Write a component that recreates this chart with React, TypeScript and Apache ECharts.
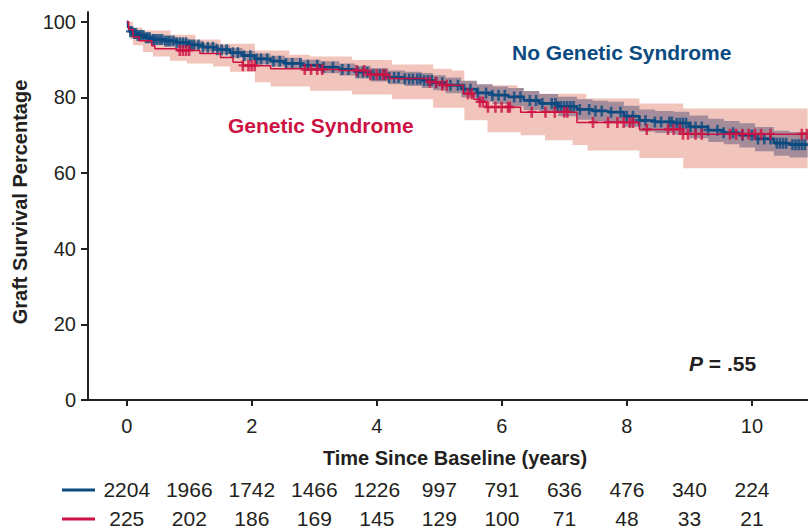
import React, { useEffect, useRef } from "react";
import * as echarts from "echarts";

// ---- axes / ticks ----
const xTicks = [0, 2, 4, 6, 8, 10];
const yTicks = [0, 20, 40, 60, 80, 100];
const riskYears = [0, 1, 2, 3, 4, 5, 6, 7, 8, 9, 10];
const riskNoGenetic = [2204, 1966, 1742, 1466, 1226, 997, 791, 636, 476, 340, 224];
const riskGenetic = [225, 202, 186, 169, 145, 129, 100, 71, 48, 33, 21];

// ---- No Genetic Syndrome (blue) KM curve ----
const blueT = [0, 0.02, 0.05, 0.1, 0.16, 0.3, 0.42, 0.6, 0.8, 1.0, 1.22, 1.45, 1.65, 1.85, 2.05, 2.3, 2.53, 2.8, 3.1, 3.4, 3.65, 3.9, 4.18, 4.45, 4.72, 4.9, 5.1, 5.35, 5.6, 5.85, 6.1, 6.35, 6.6, 6.9, 7.2, 7.45, 7.7, 7.95, 8.2, 8.45, 8.75, 9.0, 9.3, 9.55, 9.8, 10.05, 10.35, 10.6];
const blueS = [100, 98.5, 97.4, 96.9, 96.4, 95.8, 95.3, 94.9, 94.5, 93.9, 93.3, 92.6, 91.8, 91.0, 90.2, 89.6, 89.0, 88.5, 88.0, 87.4, 86.7, 86.0, 85.3, 84.9, 84.5, 83.9, 83.2, 82.2, 81.2, 80.6, 80.1, 79.2, 78.4, 77.6, 76.8, 76.4, 76.1, 75.0, 73.9, 73.5, 73.2, 72.2, 71.3, 70.7, 70.0, 69.0, 67.9, 67.5];
const blueUp = [100, 98.9, 97.9, 97.5, 97.2, 96.6, 96.2, 95.9, 95.5, 95.0, 94.4, 93.8, 93.1, 92.3, 91.6, 91.0, 90.5, 90.0, 89.6, 89.0, 88.4, 87.8, 87.1, 86.8, 86.5, 85.9, 85.3, 84.4, 83.5, 82.9, 82.5, 81.7, 80.9, 80.2, 79.5, 79.1, 78.9, 77.8, 76.8, 76.4, 76.2, 75.2, 74.4, 73.8, 73.2, 72.2, 71.2, 70.9];
const blueLo = [100, 98.1, 96.9, 96.3, 95.6, 95.0, 94.4, 93.9, 93.5, 92.8, 92.2, 91.4, 90.5, 89.7, 88.8, 88.2, 87.5, 87.0, 86.4, 85.8, 85.0, 84.2, 83.5, 83.0, 82.5, 81.9, 81.1, 80.0, 78.9, 78.3, 77.7, 76.7, 75.9, 75.0, 74.1, 73.7, 73.3, 72.2, 71.0, 70.6, 70.2, 69.2, 68.2, 67.6, 66.8, 65.8, 64.6, 64.1];
const blueEnd = 10.89;
const blueCensor = [0.06, 0.09, 0.12, 0.15, 0.18, 0.21, 0.24, 0.27, 0.31, 0.34, 0.37, 0.42, 0.45, 0.49, 0.53, 0.57, 0.62, 0.66, 0.7, 0.75, 0.8, 0.85, 0.9, 0.95, 1.0, 1.04, 1.08, 1.15, 1.22, 1.3, 1.38, 1.45, 1.52, 1.6, 1.7, 1.78, 1.88, 1.98, 2.08, 2.15, 2.25, 2.35, 2.45, 2.55, 2.65, 2.78, 2.9, 3.05, 3.15, 3.3, 3.45, 3.55, 3.7, 3.78, 3.85, 3.95, 4.05, 4.12, 4.2, 4.28, 4.35, 4.45, 4.52, 4.58, 4.65, 4.7, 4.76, 4.82, 4.88, 4.95, 5.05, 5.18, 5.3, 5.4, 5.5, 5.62, 5.75, 5.85, 5.95, 6.05, 6.2, 6.3, 6.45, 6.55, 6.65, 6.8, 6.86, 6.9, 6.95, 7.0, 7.05, 7.1, 7.15, 7.25, 7.4, 7.5, 7.6, 7.75, 7.9, 8.0, 8.1, 8.2, 8.3, 8.45, 8.55, 8.68, 8.72, 8.8, 8.85, 8.9, 8.95, 9.02, 9.1, 9.2, 9.3, 9.45, 9.55, 9.7, 9.85, 10.0, 10.1, 10.2, 10.3, 10.4, 10.45, 10.5, 10.55, 10.65, 10.7, 10.75, 10.8, 10.85];

// ---- Genetic Syndrome (red) KM curve ----
const redT = [0, 0.03, 0.1, 0.2, 0.4, 0.45, 0.8, 1.17, 1.5, 1.7, 1.86, 2.3, 2.85, 3.4, 3.85, 4.2, 4.8, 5.0, 5.38, 5.55, 5.65, 5.75, 6.3, 7.2, 8.2, 8.9];
const redS = [100, 98, 96, 95, 93.7, 92.9, 92.4, 91.6, 90.6, 89.3, 88.4, 87.6, 87.4, 87.1, 86.0, 85.0, 84.0, 83.2, 81.0, 79.5, 78.8, 77.4, 76.1, 73.4, 71.5, 70.3];
const redEnd = 10.88;
const redUpT = [0, 0.1, 0.25, 0.7, 1.1, 1.5, 2.05, 2.6, 2.93, 3.6, 4.24, 4.9, 5.2, 5.4, 6.25, 7.35, 8.2, 8.9];
const redUp = [100, 98.5, 97.7, 96.6, 95.3, 94.2, 92.4, 91.3, 90.8, 89.9, 88.7, 87.6, 87.1, 83.2, 81.0, 79.7, 78.4, 77.1];
const redLoT = [0, 0.05, 0.1, 0.26, 0.42, 0.69, 0.96, 1.38, 1.65, 2.05, 2.3, 2.93, 3.6, 4.24, 4.9, 5.4, 5.77, 6.3, 6.69, 7.13, 7.37, 8.2, 8.9];
const redLo = [100, 95.5, 93.8, 92.0, 90.8, 89.7, 89.0, 88.2, 86.8, 84.0, 82.9, 81.8, 80.8, 79.5, 77.3, 74.0, 70.8, 70.0, 68.7, 67.4, 66.0, 64.0, 61.3];
const redCensor = [0.85, 0.9, 0.95, 1.0, 1.86, 1.95, 2.0, 2.05, 2.85, 2.95, 3.05, 3.13, 3.68, 3.8, 3.9, 4.0, 4.1, 4.15, 4.85, 4.95, 5.05, 5.12, 5.46, 5.52, 5.65, 5.7, 5.78, 5.9, 6.0, 6.1, 6.13, 6.48, 6.7, 6.85, 7.0, 7.05, 7.46, 7.7, 7.85, 7.95, 8.05, 8.1, 8.32, 8.66, 8.75, 8.85, 8.9, 8.98, 9.1, 9.2, 9.65, 9.75, 9.85, 9.95, 10.05, 10.15, 10.3, 10.8, 10.88];

const BLUE = "#0b4a80";
const RED = "#cc1242";
const PINK = "#f2c5bc";
const BAND_BLUE = "#a58c9b";
const INK = "#231f20";
const FONT = '"Liberation Sans", Arial, Helvetica, sans-serif';

function stepAt(T: number[], S: number[], t: number) {
  let v = S[0];
  for (let i = 0; i < T.length; i++) if (T[i] <= t) v = S[i];
  return v;
}
function stepLine(T: number[], S: number[], end: number) {
  const pts = T.map((t, i) => [t, S[i]]);
  pts.push([end, S[S.length - 1]]);
  return pts;
}
function band(upT: number[], up: number[], loT: number[], lo: number[], end: number, color: string, z: number) {
  return {
    type: "custom",
    coordinateSystem: "cartesian2d",
    data: [[0, 50]],
    silent: true,
    clip: true,
    z,
    renderItem: (_params: any, api: any) => {
      const pts: number[][] = [];
      for (let i = 0; i < upT.length; i++) {
        if (i > 0) pts.push(api.coord([upT[i], up[i - 1]]));
        pts.push(api.coord([upT[i], up[i]]));
      }
      pts.push(api.coord([end, up[up.length - 1]]));
      pts.push(api.coord([end, lo[lo.length - 1]]));
      for (let i = loT.length - 1; i >= 0; i--) {
        pts.push(api.coord([loT[i], lo[i]]));
        if (i > 0) pts.push(api.coord([loT[i], lo[i - 1]]));
      }
      return { type: "polygon", shape: { points: pts }, style: { fill: color } };
    },
  };
}

const PLUS = "path://M3,0H5.6V4H9V6.4H5.6V11H3V6.4H0V4H3Z";

export default function App() {
  const ref = useRef<HTMLDivElement>(null);
  useEffect(() => {
    if (!ref.current) return;
    const chart = echarts.init(ref.current, undefined, { renderer: "svg" });
    const xMin = -0.62;
    const xMax = 10.896;
    const riskAxis = (vals: number[], offset: number) => ({
      type: "value",
      gridIndex: 0,
      position: "bottom",
      offset,
      min: xMin,
      max: xMax,
      axisLine: { show: false, onZero: false },
      axisTick: { show: false },
      splitLine: { show: false },
      axisLabel: {
        customValues: riskYears,
        formatter: (v: number) => String(vals[riskYears.indexOf(Math.round(v))]),
        fontSize: 21,
        fontFamily: FONT,
        color: INK,
        margin: 5,
      },
    });
    chart.setOption({
      animation: false,
      grid: { left: 88, right: 0, top: 12, bottom: 128, containLabel: false },
      xAxis: [
        {
          type: "value",
          min: xMin,
          max: xMax,
          axisLine: { onZero: false, lineStyle: { color: INK, width: 2 } },
          axisTick: { customValues: xTicks, length: 6, lineStyle: { color: INK, width: 2 } },
          axisLabel: { customValues: xTicks, fontSize: 20, fontFamily: FONT, color: INK, margin: 16 },
          splitLine: { show: false },
          name: "Time Since Baseline (years)",
          nameLocation: "middle",
          nameGap: 48,
          nameTextStyle: { fontSize: 20, fontWeight: "bold", fontFamily: FONT, color: INK, padding: [0, 0, 0, 14] },
        },
        riskAxis(riskNoGenetic, 74),
        riskAxis(riskGenetic, 103),
      ],
      yAxis: {
        type: "value",
        min: 0,
        max: 102.6,
        axisLine: { show: true, onZero: false, lineStyle: { color: INK, width: 2 } },
        axisTick: { show: true, customValues: yTicks, length: 7, lineStyle: { color: INK, width: 2 } },
        axisLabel: { customValues: yTicks, fontSize: 20, fontFamily: FONT, color: INK, margin: 12 },
        splitLine: { show: false },
        name: "Graft Survival Percentage",
        nameLocation: "middle",
        nameGap: 58,
        nameRotate: 90,
        nameTextStyle: { fontSize: 20, fontWeight: "bold", fontFamily: FONT, color: INK, padding: [0, 0, 0, 8] },
      },
      series: [
        band(redUpT, redUp, redLoT, redLo, redEnd + 0.01, PINK, 1),
        band(blueT, blueUp, blueT, blueLo, blueEnd, BAND_BLUE, 2),
        {
          type: "line",
          step: "end",
          data: stepLine(blueT, blueS, blueEnd),
          showSymbol: false,
          lineStyle: { color: BLUE, width: 2.5 },
          itemStyle: { color: BLUE },
          z: 3,
          silent: true,
        },
        {
          type: "scatter",
          data: blueCensor.map((t) => [t, stepAt(blueT, blueS, t)]),
          symbol: PLUS,
          symbolSize: [9, 11],
          itemStyle: { color: BLUE },
          z: 4,
          silent: true,
        },
        {
          type: "line",
          step: "end",
          data: stepLine(redT, redS, redEnd),
          showSymbol: false,
          lineStyle: { color: RED, width: 1.5 },
          itemStyle: { color: RED },
          z: 5,
          silent: true,
        },
        {
          type: "scatter",
          data: redCensor.map((t) => [t, stepAt(redT, redS, t)]),
          symbol: PLUS,
          symbolSize: [9, 11],
          itemStyle: { color: RED },
          z: 6,
          silent: true,
        },
      ],
      graphic: [
        { type: "line", shape: { x1: 62, y1: 490, x2: 95, y2: 490 }, style: { stroke: BLUE, lineWidth: 3 } },
        { type: "line", shape: { x1: 62, y1: 519, x2: 95, y2: 519 }, style: { stroke: RED, lineWidth: 3 } },
        {
          type: "text",
          x: 512,
          y: 52,
          style: { text: "No Genetic Syndrome", fill: BLUE, font: `bold 21px ${FONT}`, verticalAlign: "middle" },
        },
        {
          type: "text",
          x: 228,
          y: 125,
          style: { text: "Genetic Syndrome", fill: RED, font: `bold 21px ${FONT}`, verticalAlign: "middle" },
        },
        {
          type: "text",
          x: 689,
          y: 363,
          style: {
            text: "{i|P}{b| = .55}",
            verticalAlign: "middle",
            rich: {
              i: { fontStyle: "italic", fontWeight: "bold", fontSize: 21, fontFamily: FONT, fill: INK },
              b: { fontWeight: "bold", fontSize: 21, fontFamily: FONT, fill: INK },
            },
          },
        },
      ],
    });
    return () => chart.dispose();
  }, []);
  return <div ref={ref} style={{ position: "absolute", left: 0, top: 0, width: 808, height: 529 }} />;
}
